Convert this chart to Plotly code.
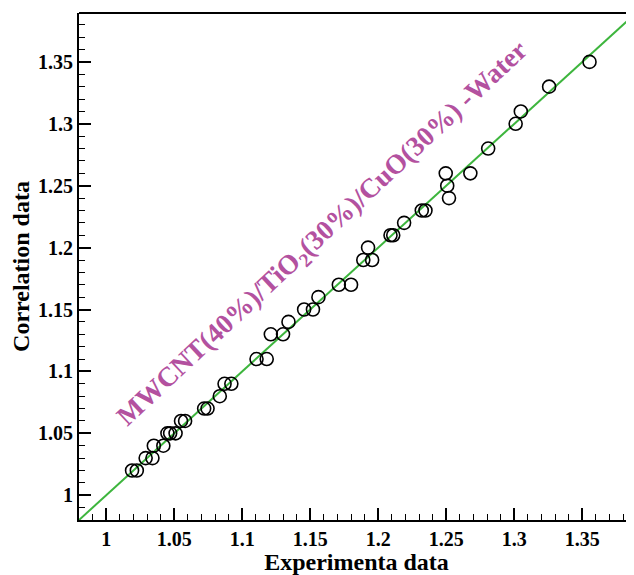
import plotly.graph_objects as go

exp_data = [1.019, 1.0225, 1.029, 1.034, 1.035, 1.042, 1.045, 1.047, 1.051, 1.055, 1.058,
            1.072, 1.0745, 1.0835, 1.087, 1.092, 1.1105, 1.118, 1.121, 1.130, 1.134,
            1.1455, 1.152, 1.156, 1.171, 1.180, 1.189, 1.1925, 1.1955, 1.209, 1.211,
            1.219, 1.232, 1.2347, 1.2496, 1.2507, 1.252, 1.2677, 1.2808, 1.301, 1.3048,
            1.3256, 1.3553]
corr_data = [1.02, 1.02, 1.03, 1.03, 1.04, 1.04, 1.05, 1.05, 1.05, 1.06, 1.06,
             1.07, 1.07, 1.08, 1.09, 1.09, 1.11, 1.11, 1.13, 1.13, 1.14,
             1.15, 1.15, 1.16, 1.17, 1.17, 1.19, 1.20, 1.19, 1.21, 1.21,
             1.22, 1.23, 1.23, 1.26, 1.25, 1.24, 1.26, 1.28, 1.30, 1.31,
             1.33, 1.35]
line_x = [0.98, 1.39]
line_y = [0.98, 1.39]
tick_vals = [1, 1.05, 1.1, 1.15, 1.2, 1.25, 1.3, 1.35]
tick_text = ["1", "1.05", "1.1", "1.15", "1.2", "1.25", "1.3", "1.35"]

FONT = "Liberation Serif"

fig = go.Figure()
fig.add_trace(go.Scatter(x=line_x, y=line_y, mode="lines",
                         line=dict(color="#3DB53D", width=2), showlegend=False))
fig.add_trace(go.Scatter(x=exp_data, y=corr_data, mode="markers",
                         marker=dict(symbol="circle-open", size=13,
                                     line=dict(color="black", width=1.6), color="black"),
                         showlegend=False))

axis_common = dict(
    showline=True, linecolor="black", linewidth=2, mirror=False,
    ticks="inside", ticklen=12, tickwidth=2, tickcolor="black",
    showgrid=False, zeroline=False, automargin=False,
    tickvals=tick_vals, ticktext=tick_text,
    tickfont=dict(family=FONT, size=20, color="black", weight="bold"),
    minor=dict(dtick=0.01, tick0=1, ticks="inside", ticklen=6, tickwidth=1, tickcolor="black", showgrid=False),
)

# page body has an 8px margin, so the figure is sized/placed to compensate
fig.update_layout(
    width=626, height=567,
    margin=dict(l=71, r=0, t=5, b=55, autoexpand=False),
    plot_bgcolor="white", paper_bgcolor="white",
    xaxis=dict(range=[0.98, 1.388],
               title=dict(text="Experimenta data", standoff=4,
                          font=dict(family=FONT, size=24, color="black", weight="bold")),
               **axis_common),
    yaxis=dict(range=[0.98, 1.3895],
               title=dict(text="Correlation data", standoff=18,
                          font=dict(family=FONT, size=24, color="black", weight="bold")),
               **axis_common),
    shapes=[dict(type="line", xref="paper", yref="paper", x0=0, x1=1, y0=1, y1=1,
                 line=dict(color="black", width=2))],
    annotations=[dict(x=1.159, y=1.211, xref="x", yref="y", showarrow=False,
                      text="MWCNT(40%)/TiO<sub>2</sub>(30%)/CuO(30%) -Water",
                      textangle=-43,
                      font=dict(family=FONT, size=27.5, color="#B3519F", weight="bold"))],
)

fig.write_html("out.html")
